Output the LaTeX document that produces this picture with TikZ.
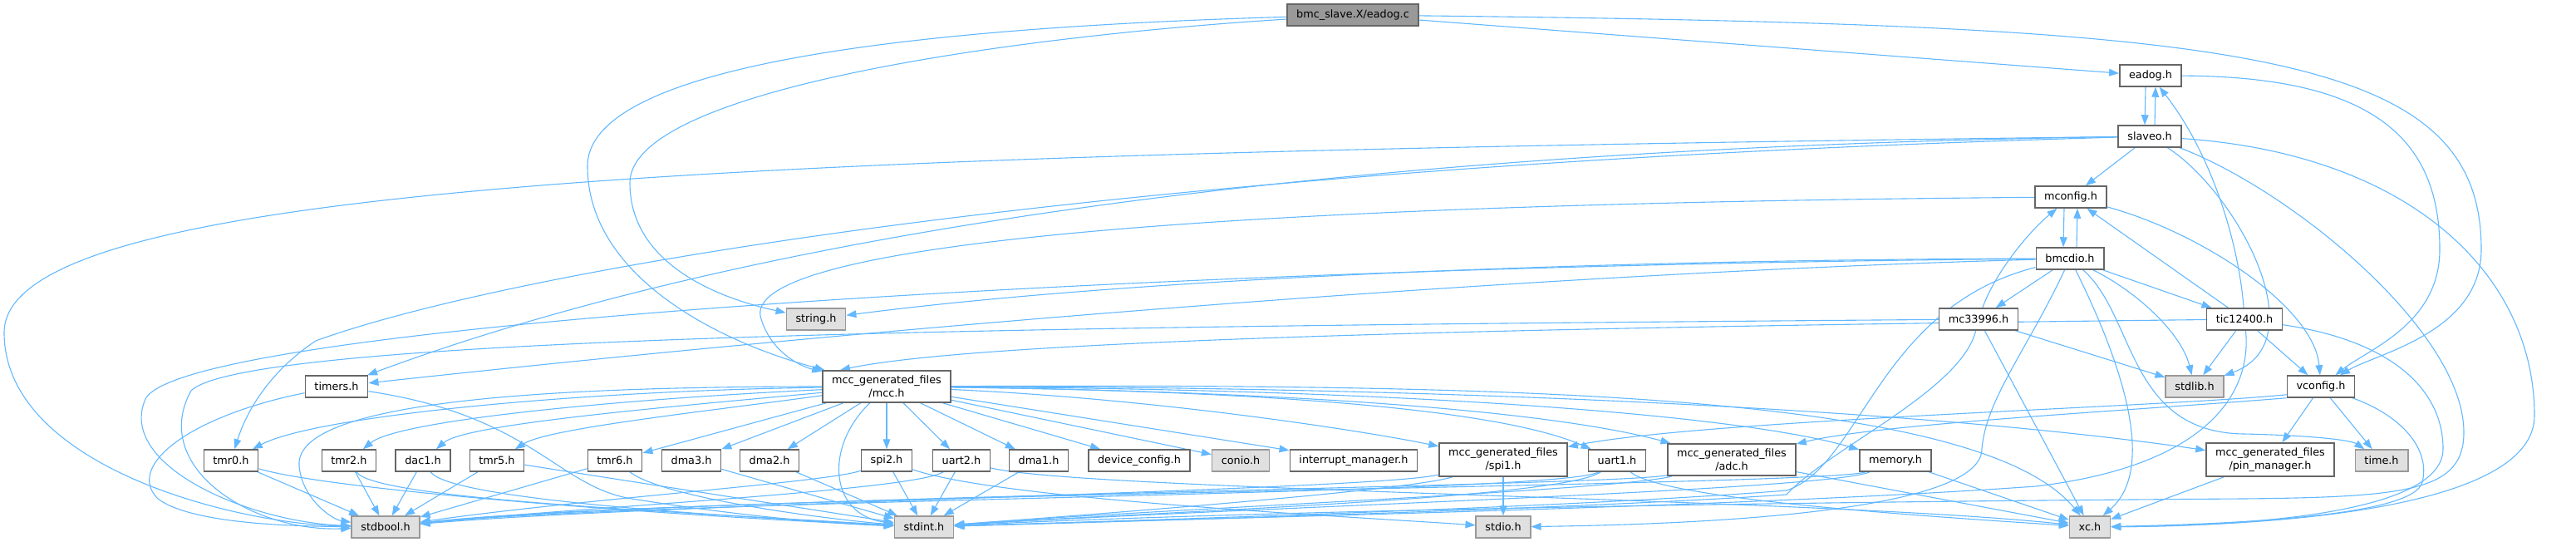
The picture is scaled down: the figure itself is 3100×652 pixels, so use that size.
\documentclass[tikz,border=0pt]{standalone}
\usepackage{fontspec}
\setmainfont{DejaVu Sans}
\usetikzlibrary{arrows.meta,backgrounds}
\definecolor{edgeblue}{RGB}{99,184,255}
\definecolor{frame}{RGB}{102,102,102}
\definecolor{sysframe}{RGB}{153,153,153}
\definecolor{sysfill}{RGB}{224,224,224}
\definecolor{rootfill}{RGB}{153,153,153}
\tikzset{
  >={Triangle[length=6pt,width=4.4pt]},
  hdr/.style={draw=frame,fill=white,line width=0.75pt,inner xsep=5.6pt,inner ysep=2.8pt,
    minimum height=13pt,align=center,font=\fontsize{6.4pt}{8pt}\selectfont},
  syshdr/.style={hdr,draw=sysframe,fill=sysfill},
  rootfile/.style={hdr,fill=rootfill},
  inc/.style={->,draw=edgeblue,line width=0.55pt},
}

\begin{document}
\begin{tikzpicture}[x=0.5pt,y=-0.5pt]
  \useasboundingbox (0,0) rectangle (3100,652);
  % files
  \node[rootfile] (eadogc) at (1628,18) {bmc\_slave.X/eadog.c};
  \node[hdr] (eadogh) at (2588,91) {eadog.h};
  \node[hdr] (slaveo) at (2587,164) {slaveo.h};
  \node[hdr] (mconfig) at (2492,237) {mconfig.h};
  \node[hdr] (bmcdio) at (2491,311) {bmcdio.h};
  \node[hdr] (mc33996) at (2381,384) {mc33996.h};
  \node[hdr] (tic12400) at (2701,384) {tic12400.h};
  \node[syshdr] (string) at (982,384) {string.h};
  \node[hdr] (mcc) at (1067,465) {mcc\_generated\_files\\/mcc.h};
  \node[hdr] (timers) at (405,465) {timers.h};
  \node[syshdr] (stdlib) at (2641,465) {stdlib.h};
  \node[hdr] (vconfig) at (2793,465) {vconfig.h};
  \foreach \n/\x/\t in {tmr0/278/tmr0.h,tmr2/420/tmr2.h,dac1/509/dac1.h,tmr5/598/tmr5.h,
      tmr6/740/tmr6.h,dma3/832/dma3.h,dma2/926/dma2.h,spi2/1067/spi2.h,uart2/1157/uart2.h,
      dma1/1250/dma1.h,devcfg/1371/device\_config.h,intmgr/1629/interrupt\_manager.h,
      uart1/1946/uart1.h,memory/2281/memory.h}
    \node[hdr] (\n) at (\x,554) {\t};
  \node[syshdr] (conio) at (1493,554) {conio.h};
  \node[hdr] (spi1) at (1809,553) {mcc\_generated\_files\\/spi1.h};
  \node[hdr] (adc) at (2084,553) {mcc\_generated\_files\\/adc.h};
  \node[hdr] (pinmgr) at (2732,553) {mcc\_generated\_files\\/pin\_manager.h};
  \node[syshdr] (time) at (2866,554) {time.h};
  \foreach \n/\x/\t in {stdbool/464/stdbool.h,stdint/1112/stdint.h,stdio/1809/stdio.h,xc/2515/xc.h}
    \node[syshdr] (\n) at (\x,634) {\t};

  \begin{scope}[on background layer]
    % eadog.c
    \draw[inc] (eadogc) -- (eadogh);
    \draw[inc] (eadogc) .. controls (2700,30) and (2986,60) .. (2986,300) .. controls (2986,400) and (2860,425) .. (vconfig);
    \draw[inc] (eadogc) .. controls (1150,32) and (707,70) .. (707,200) .. controls (707,330) and (860,410) .. (mcc);
    \draw[inc] (eadogc) .. controls (1200,45) and (758,110) .. (758,220) .. controls (758,320) and (870,360) .. (string);
    % eadog.h, slaveo.h
    \draw[inc] ([xshift=-3pt]eadogh.south) -- ([xshift=-3pt]slaveo.north);
    \draw[inc] ([xshift=3pt]slaveo.north) -- ([xshift=3pt]eadogh.south);
    \draw[inc] (eadogh) .. controls (2860,92) and (2936,170) .. (2936,300) .. controls (2936,390) and (2850,420) .. (vconfig);
    \draw[inc] (slaveo) -- (mconfig);
    \draw[inc] (slaveo) .. controls (900,185) and (5,220) .. (5,400) .. controls (5,560) and (280,630) .. (stdbool);
    \draw[inc] (slaveo) .. controls (1500,180) and (850,300) .. (timers);
    \draw[inc] (slaveo) .. controls (1300,200) and (600,330) .. (380,410) .. controls (320,450) and (295,500) .. (tmr0);
    \draw[inc] (slaveo) .. controls (2690,230) and (2790,410) .. (stdlib);
    \draw[inc] (slaveo) .. controls (2900,185) and (3050,330) .. (3050,500) .. controls (3050,610) and (2750,632) .. (xc);
    \draw[inc] (slaveo) .. controls (2760,230) and (2965,400) .. (2965,520) .. controls (2965,590) and (2900,598) .. (2700,600)
      .. controls (2100,604) and (1500,615) .. (stdint);
    % mconfig.h
    \draw[inc] ([xshift=-4pt]mconfig.south) -- ([xshift=-4pt]bmcdio.north);
    \draw[inc] ([xshift=4pt]bmcdio.north) -- ([xshift=4pt]mconfig.south);
    \draw[inc] (mconfig) .. controls (2650,280) and (2785,370) .. (vconfig);
    \draw[inc] (mconfig) .. controls (1500,245) and (900,290) .. (915,380) .. controls (925,420) and (960,440) .. (mcc);
    % bmcdio.h
    \draw[inc] (bmcdio) -- (mc33996);
    \draw[inc] (bmcdio) -- (tic12400);
    \draw[inc] (bmcdio) .. controls (2570,350) and (2625,400) .. (stdlib);
    \draw[inc] (bmcdio) .. controls (2000,312) and (1400,330) .. (string);
    \draw[inc] (bmcdio) .. controls (1800,330) and (1000,400) .. (timers);
    \draw[inc] (bmcdio) .. controls (1400,320) and (220,390) .. (175,480) .. controls (140,560) and (300,628) .. (stdbool);
    \draw[inc] (bmcdio) .. controls (2260,370) and (2240,560) .. (2150,590) .. controls (1900,610) and (1400,625) .. (stdint);
    \draw[inc] (bmcdio) .. controls (2440,420) and (2390,480) .. (2385,540) .. controls (2385,610) and (2100,630) .. (stdio);
    \draw[inc] (bmcdio) .. controls (2545,420) and (2600,560) .. (xc);
    \draw[inc] (bmcdio) .. controls (2570,380) and (2560,520) .. (2700,522) .. controls (2790,524) and (2830,530) .. (time);
    % mc33996.h
    \draw[inc] (mc33996) .. controls (2400,330) and (2440,280) .. (mconfig);
    \draw[inc] (mc33996) -- (stdlib);
    \draw[inc] (mc33996) -- (xc);
    \draw[inc] (mc33996) .. controls (2360,470) and (2200,540) .. (2150,595) .. controls (1900,612) and (1400,626) .. (stdint);
    \draw[inc] (mc33996) .. controls (1400,392) and (300,400) .. (230,470) .. controls (180,560) and (300,640) .. (stdbool);
    % tic12400.h
    \draw[inc] (tic12400) -- (mconfig);
    \draw[inc] (tic12400) .. controls (2695,300) and (2665,190) .. (eadogh);
    \draw[inc] (tic12400) -- (vconfig);
    \draw[inc] (tic12400) -- (stdlib);
    \draw[inc] (tic12400) .. controls (2880,410) and (2940,470) .. (2940,540) .. controls (2940,610) and (2750,632) .. (xc);
    \draw[inc] (tic12400) .. controls (2710,470) and (2660,560) .. (2450,585) .. controls (2100,610) and (1500,622) .. (stdint);
    \draw[inc] (tic12400) .. controls (2000,392) and (1200,405) .. ([xshift=-28pt]mcc.north);
    % vconfig.h
    \draw[inc] (vconfig) -- (pinmgr);
    \draw[inc] (vconfig) -- (time);
    \draw[inc] (vconfig) .. controls (2890,500) and (2925,540) .. (2915,580) .. controls (2905,620) and (2700,630) .. (xc);
    \draw[inc] (vconfig.south west) .. controls (2550,495) and (2260,510) .. (adc);
    \draw[inc] ([yshift=2pt]vconfig.south west) .. controls (2600,490) and (2050,505) .. (spi1);
    % mcc.h
    \draw[inc] (mcc) .. controls (700,470) and (380,500) .. (tmr0);
    \draw[inc] (mcc) .. controls (750,480) and (480,505) .. (tmr2);
    \draw[inc] (mcc) .. controls (800,490) and (560,510) .. (dac1);
    \draw[inc] (mcc) .. controls (850,495) and (660,515) .. (tmr5);
    \foreach \t in {tmr6,dma3,dma2,spi2,uart2,dma1,devcfg,conio,intmgr}
      \draw[inc] (mcc) -- (\t);
    \draw[inc] (mcc) .. controls (1400,480) and (1650,520) .. (spi1);
    \draw[inc] (mcc) .. controls (1500,470) and (1800,490) .. (uart1);
    \draw[inc] (mcc) .. controls (1500,470) and (1850,490) .. (adc);
    \draw[inc] (mcc) .. controls (1700,468) and (2100,500) .. (memory);
    \draw[inc] (mcc) .. controls (1700,465) and (2300,490) .. (pinmgr);
    \draw[inc] (mcc) .. controls (1800,462) and (2380,470) .. (xc);
    \draw[inc] (mcc) .. controls (990,540) and (1000,620) .. (stdint);
    \draw[inc] (mcc) .. controls (600,465) and (355,490) .. (360,560) .. controls (363,600) and (400,625) .. (stdbool);
    % leaf headers
    \draw[inc] (timers) .. controls (230,500) and (150,560) .. (190,600) .. controls (230,630) and (350,633) .. (stdbool);
    \draw[inc] (timers) .. controls (640,500) and (670,585) .. (760,600) .. controls (900,622) and (1000,630) .. (stdint);
    \foreach \s in {tmr0,tmr2,dac1,tmr5,tmr6}
      \draw[inc] (\s) -- (stdbool);
    \foreach \s in {tmr5,dma3,dma2,spi2,uart2,dma1}
      \draw[inc] (\s) -- (stdint);
    \draw[inc] (tmr0) .. controls (400,590) and (800,620) .. (stdint);
    \draw[inc] (tmr2) .. controls (450,600) and (800,615) .. (stdint);
    \draw[inc] (dac1) .. controls (540,600) and (850,620) .. (stdint);
    \draw[inc] (tmr6) .. controls (800,600) and (1000,625) .. (stdint);
    \draw[inc] (spi2) .. controls (1000,580) and (700,600) .. (stdbool);
    \draw[inc] (spi2) .. controls (1200,600) and (1600,620) .. (stdio);
    \draw[inc] (uart2) .. controls (1100,590) and (700,610) .. (stdbool);
    \draw[inc] (uart2) .. controls (1300,590) and (2200,600) .. (xc);
    \draw[inc] (spi1) -- (stdio);
    \draw[inc] (spi1) .. controls (1700,590) and (1300,620) .. (stdint);
    \draw[inc] (spi1) .. controls (1650,590) and (800,605) .. (stdbool);
    \draw[inc] (uart1) .. controls (1880,600) and (1400,615) .. (stdint);
    \draw[inc] (uart1) .. controls (1880,595) and (800,600) .. (stdbool);
    \draw[inc] (uart1) .. controls (2000,600) and (2300,620) .. (xc);
    \draw[inc] (adc) .. controls (1950,590) and (1400,612) .. (stdint);
    \draw[inc] (adc) .. controls (1950,585) and (800,598) .. (stdbool);
    \draw[inc] (memory) .. controls (2200,590) and (1500,610) .. (stdint);
    \draw[inc] (memory) .. controls (2200,585) and (800,595) .. (stdbool);
    \foreach \s in {adc,memory,pinmgr}
      \draw[inc] (\s) -- (xc);
  \end{scope}
\end{tikzpicture}
\end{document}
